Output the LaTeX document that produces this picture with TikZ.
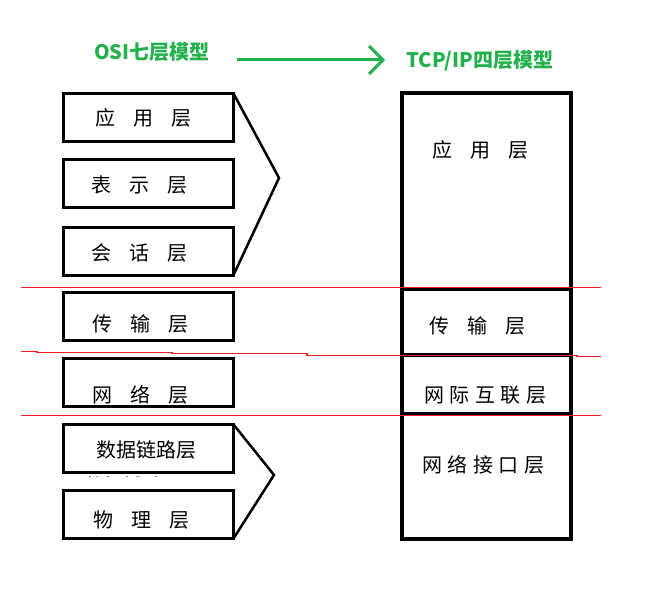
\documentclass[tikz,border=0pt]{standalone}
\usepackage{fontspec}
\newfontfamily\cjk{Noto Sans CJK SC}
\definecolor{titlegreen}{RGB}{34,177,76}
\definecolor{sepred}{RGB}{237,28,36}
\newcommand\wgap{\hspace{18pt}}
\newcommand\ngap{\hspace{5.5pt}}
\begin{document}
\begin{tikzpicture}[x=1pt,y=-1pt,
  osibox/.style={draw, line width=3pt, minimum width=170pt, minimum height=48pt, inner sep=0pt, outer sep=0pt},
  tcpbox/.style={draw, line width=4pt, minimum width=169pt, inner sep=0pt, outer sep=0pt},
  lbl/.style={font=\cjk\fontsize{20}{20}\selectfont, inner sep=0pt},
  ttl/.style={font=\cjk\bfseries\fontsize{20}{20}\selectfont, text=titlegreen, inner sep=0pt},
  chevron/.style={line width=2.5pt, line join=miter},
  sepline/.style={draw=sepred, line width=1.5pt},
  flow/.style={draw=titlegreen, line width=3pt, line join=miter}]

\useasboundingbox (0,0) rectangle (666,591);

% titles and the mapping arrow
\node[ttl] (osi) at (152,52) {OSI七层模型};
\node[ttl] (tcp) at (480,61) {TCP/IP四层模型};
\coordinate (arrS) at (237,60);
\coordinate (arrE) at (383,60);
\draw[flow] (arrS) -- (arrE);
\draw[flow] ([shift={(-14,-14)}]arrE) -- (arrE) -- ([shift={(-14,14)}]arrE);

% OSI seven layers
\node[osibox] (app)  at (148.5,117.5) {};
\node[osibox] (pres) at (148.5,183.5) {};
\node[osibox] (sess) at (148.5,251) {};
\node[osibox] (trans) at (148.5,316) {};
\node[osibox] (net)  at (148.5,382) {};
\node[osibox] (link) at (148.5,448.5) {};
\node[osibox] (phys) at (148.5,514.5) {};

\node[lbl] (tapp)   at (143.5,118) {应\wgap 用\wgap 层};
\node[lbl] (tpres)  at (139.5,185) {表\wgap 示\wgap 层};
\node[lbl] (tsess)  at (139.5,253) {会\wgap 话\wgap 层};
\node[lbl] (ttrans) at (140,324) {传\wgap 输\wgap 层};
\node[lbl] (tnet)   at (140.5,395) {网\wgap 络\wgap 层};
\node[lbl] (tlink)  at (146,450) {数据链路层};
\node[lbl] (tphys)  at (141.5,520) {物\wgap 理\wgap 层};

% stray stroke tops showing below the data link box
\begin{scope}
  \clip (84,474.5) rectangle (184,476.5);
  \node[lbl] (tlinkghost) at (134,486) {数据链路层};
\end{scope}

% grouping chevrons
\coordinate (apexTop) at (279,178);
\coordinate (apexBot) at (274,475);
\draw[chevron] (app.north east) -- (apexTop) -- (sess.south east);
\draw[chevron] (link.north east) -- (apexBot) -- (phys.south east);

% TCP/IP four layers
\node[tcpbox, minimum height=196pt] (rapp)   at (486.5,191) {};
\node[tcpbox, minimum height=66pt]  (rtrans) at (486.5,322) {};
\node[tcpbox, minimum height=59pt]  (rinet)  at (486.5,384.5) {};
\node[tcpbox, minimum height=125pt] (rlink)  at (486.5,476.5) {};

\node[lbl] (lrapp)   at (480,150) {应\wgap 用\wgap 层};
\node[lbl] (lrtrans) at (477,325.5) {传\wgap 输\wgap 层};
\node[lbl] (lrinet)  at (485,395.5) {网\ngap 际\ngap 互\ngap 联\ngap 层};
\node[lbl] (lrlink)  at (483,465) {网\ngap 络\ngap 接\ngap 口\ngap 层};

% red separators
\draw[sepline] (21,287.5) -- (601,287.5);
\draw[sepline] (21,351.5) -- (37,351.5) -- (37,352.5) -- (172,352.5) -- (172,353.5) -- (307,353.5)
  -- (307,355.5) -- (577,355.5) -- (577,356.5) -- (601,356.5);
\draw[sepline] (21,415.5) -- (601,415.5);
\end{tikzpicture}
\end{document}
